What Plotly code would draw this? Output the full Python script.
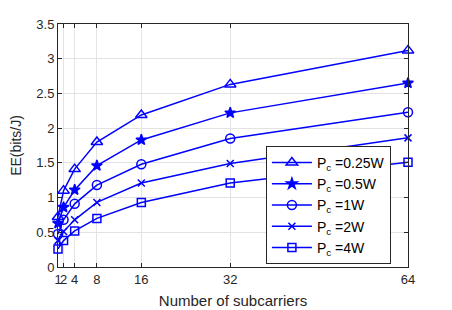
import plotly.graph_objects as go

subcarriers = [1, 2, 4, 8, 16, 32, 64]
ee_025w = [0.72, 1.10, 1.41, 1.80, 2.19, 2.63, 3.12]
ee_05w = [0.63, 0.86, 1.11, 1.46, 1.83, 2.22, 2.65]
ee_1w = [0.475, 0.68, 0.91, 1.18, 1.48, 1.85, 2.23]
ee_2w = [0.38, 0.51, 0.68, 0.93, 1.21, 1.49, 1.86]
ee_4w = [0.26, 0.38, 0.52, 0.70, 0.93, 1.21, 1.51]
labels = ["P<sub>c</sub> =0.25W", "P<sub>c</sub> =0.5W", "P<sub>c</sub> =1W",
          "P<sub>c</sub> =2W", "P<sub>c</sub> =4W"]
x_ticks = [1, 2, 4, 8, 16, 32, 64]
y_ticks = [0, 0.5, 1, 1.5, 2, 2.5, 3, 3.5]

series = [ee_025w, ee_05w, ee_1w, ee_2w, ee_4w]
symbols = ["triangle-up-open", "star", "circle-open", "x-thin-open", "square-open"]
sizes = [10, 8, 9, 7, 8]

FONT = "Liberation Sans, Arial"

fig = go.Figure()
for ys, lab, sym, sz in zip(series, labels, symbols, sizes):
    fig.add_trace(go.Scatter(
        x=subcarriers, y=ys, name=lab, mode="lines+markers",
        line=dict(color="#0000ff", width=1.5),
        marker=dict(symbol=sym, size=sz, color="#0000ff",
                    line=dict(color="#0000ff", width=1.5)),
        cliponaxis=False,
    ))

axis_common = dict(
    showgrid=True, gridcolor="#e3e3e3", gridwidth=1,
    showline=True, linecolor="#262626", linewidth=1, mirror="ticks",
    ticks="inside", ticklen=4, tickcolor="#262626",
    tickfont=dict(family=FONT, size=13, color="#262626"),
    zeroline=False, tickangle=0, automargin=False,
)
fig.update_xaxes(range=[1, 64], tickvals=x_ticks, ticktext=[str(v) for v in x_ticks],
                 title=dict(text="Number of subcarriers", standoff=9,
                            font=dict(family=FONT, size=15, color="#262626")),
                 **axis_common)
fig.update_yaxes(range=[0, 3.5], tickvals=y_ticks, ticktext=["0", "0.5", "1", "1.5", "2", "2.5", "3", "3.5"],
                 title=dict(text="EE(bits/J)", standoff=11,
                            font=dict(family=FONT, size=14, color="#262626")),
                 **axis_common)

# page body has an 8px default margin, compensate in the figure margins
fig.update_layout(
    width=452, height=310,
    margin=dict(l=50, r=52, t=16, b=51),
    paper_bgcolor="white", plot_bgcolor="white",
    showlegend=True,
    legend=dict(x=0.594, y=0.498, xanchor="left", yanchor="top",
                bgcolor="white", bordercolor="#262626", borderwidth=1,
                font=dict(family=FONT, size=14, color="#000000"),
                tracegroupgap=0, itemwidth=40),
)

fig.write_html("out.html")
